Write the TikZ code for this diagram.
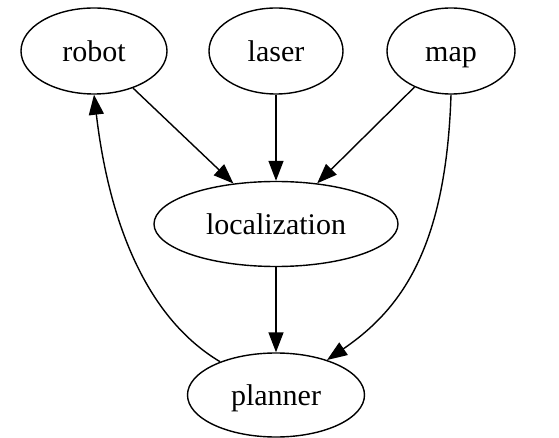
\documentclass[tikz,border=0pt]{standalone}
\usepackage{fontspec}
\setmainfont{Liberation Serif}
\usetikzlibrary{arrows.meta,shapes.geometric}
\begin{document}
\begin{tikzpicture}[x=1pt,y=-1pt,
  state/.style={draw, ellipse, line width=1.4pt, inner sep=0pt,
    text height=21pt, text depth=0pt,
    font=\fontsize{30}{36}\selectfont},
  edge/.style={line width=1.4pt, -{Triangle[length=20pt,width=15pt]}}]
\useasboundingbox (0,0) rectangle (559,438);
\node[state, minimum width=146pt, minimum height=86pt] (robot) at (94,51) {robot};
\node[state, minimum width=134pt, minimum height=86pt] (laser) at (276,51) {laser};
\node[state, minimum width=128pt, minimum height=86pt] (map) at (451,51) {map};
\node[state, minimum width=244pt, minimum height=85pt] (loc) at (276,224) {localization};
\node[state, minimum width=177pt, minimum height=84pt] (planner) at (276,395) {planner};
\draw[edge] (robot) -- (loc);
\draw[edge] (laser) -- (loc);
\draw[edge] (map) -- (loc);
\draw[edge] (loc) -- (planner);
\draw[edge] (map.south) .. controls (446,250) and (400,310) .. (planner);
\draw[edge] (planner) .. controls (150,320) and (110,230) .. (robot.south);
\end{tikzpicture}
\end{document}
